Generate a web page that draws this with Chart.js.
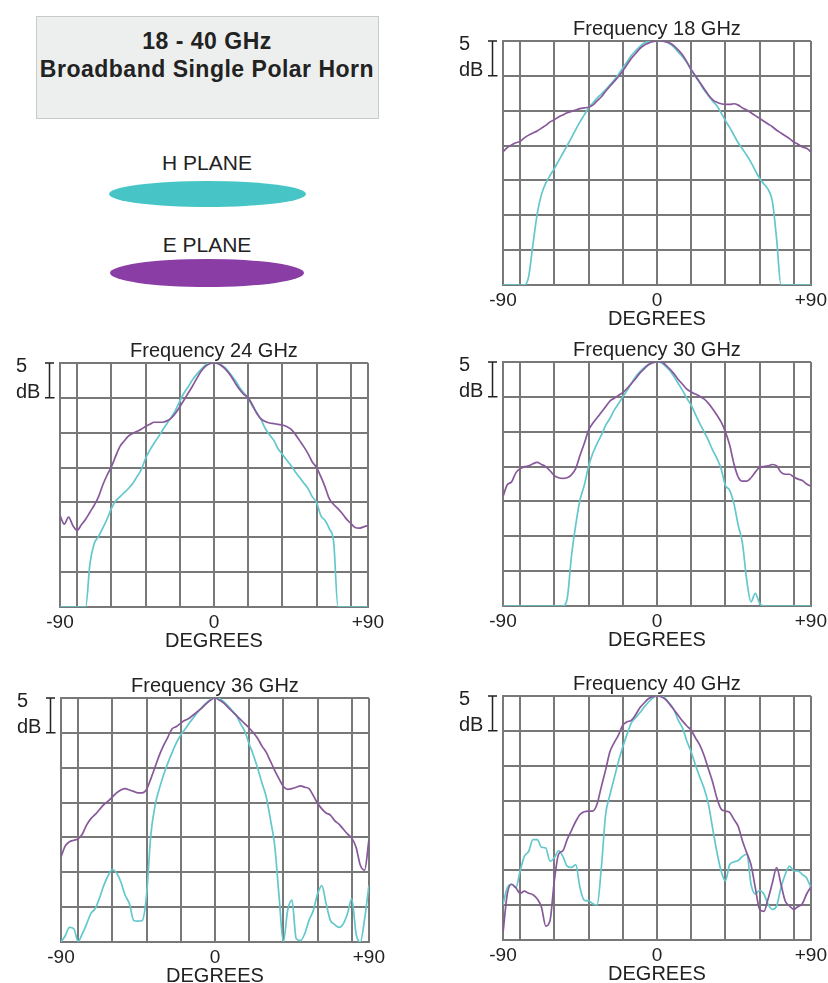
<!DOCTYPE html>
<html>
<head>
<meta charset="utf-8">
<title>18 - 40 GHz Broadband Single Polar Horn</title>
<script src="https://cdn.jsdelivr.net/npm/chart.js@4.4.1/dist/chart.umd.min.js"></script>
<style>
  html, body { margin: 0; padding: 0; background: #fff; overflow: hidden; }
  #page { position: relative; width: 828px; height: 983px; overflow: hidden;
          font-family: "Liberation Sans", Arial, sans-serif; color: #222; }
  .titlebox { position: absolute; left: 36px; top: 16px; width: 341px; height: 101px;
              background: #edefee; border: 1px solid #c9cbca; }
  .txt { position: absolute; left: 0; width: 414px; text-align: center; white-space: nowrap; }
  .big { font-size: 23px; line-height: 23px; font-weight: bold; letter-spacing: 0.5px; }
  .leg { font-size: 21px; line-height: 21px; }
  .ell { position: absolute; border-radius: 50%; }
  canvas { position: absolute; }
</style>
</head>
<body>
<div id="page">
  <div class="titlebox"></div>
  <div class="txt big" style="top:29.5px">18 - 40 GHz</div>
  <div class="txt big" style="top:57.5px">Broadband Single Polar Horn</div>

  <div class="txt leg" style="top:152px">H PLANE</div>
  <div class="ell" style="left:109px; top:181px; width:197px; height:26px; background:#47c5c6;"></div>
  <div class="txt leg" style="top:234px">E PLANE</div>
  <div class="ell" style="left:110px; top:259px; width:194px; height:28px; background:#8b3da6;"></div>
</div>

<script>
/* ===============================
   DATA (angle in degrees, level in dB)
================================*/
const angles = [-90, -87.5, -85, -82.5, -80, -77.5, -75, -72.5, -70,
  -67.5, -65, -62.5, -60, -57.5, -55, -52.5, -50, -47.5,
  -45, -42.5, -40, -37.5, -35, -32.5, -30, -27.5, -25,
  -22.5, -20, -17.5, -15, -12.5, -10, -7.5, -5, -2.5,
  0,
  2.5, 5, 7.5, 10, 12.5, 15, 17.5, 20, 22.5,
  25, 27.5, 30, 32.5, 35, 37.5, 40, 42.5, 45,
  47.5, 50, 52.5, 55, 57.5, 60, 62.5, 65, 67.5,
  70, 72.5, 75, 77.5, 80, 82.5, 85, 87.5, 90];

// 18 GHz
const h18 = [-35, -35, -35, -35, -35, -35, -33.8, -29.2, -24.8,
  -22.0, -20.4, -19.3, -18.3, -17.2, -16.1, -15.0, -13.9, -12.7,
  -11.6, -10.6, -9.6, -8.9, -8.2, -7.6, -7.0, -6.3, -5.6,
  -4.8, -3.9, -3.0, -2.1, -1.4, -0.8, -0.3, -0.1, 0,
  0,
  0, -0.1, -0.4, -0.9, -1.6, -2.3, -3.1, -4.1, -5.1,
  -6.0, -7.0, -7.8, -8.6, -9.3, -10.3, -11.4, -12.4, -13.5,
  -14.6, -15.5, -16.4, -17.4, -18.6, -19.7, -20.5, -21.3, -23.0,
  -28.5, -35, -35, -35, -35, -35, -35, -35, -35];
const e18 = [-15.9, -15.3, -14.9, -14.6, -14.4, -13.9, -13.5, -13.2, -12.9,
  -12.5, -12.1, -11.6, -11.3, -10.9, -10.6, -10.3, -10.1, -9.9,
  -9.7, -9.6, -9.5, -9.2, -8.6, -8.0, -7.2, -6.5, -5.8,
  -5.1, -4.3, -3.4, -2.5, -1.8, -1.1, -0.6, -0.3, -0.1,
  0,
  0, -0.1, -0.3, -0.7, -1.3, -2.0, -3.0, -4.1, -5.0,
  -5.9, -6.8, -7.7, -8.4, -8.8, -9.0, -9.1, -9.1, -9.0,
  -9.2, -9.6, -9.9, -10.3, -10.7, -11.1, -11.5, -11.9, -12.3,
  -12.8, -13.2, -13.6, -14.0, -14.5, -14.8, -15.2, -15.4, -15.9];

// 24 GHz
const h24 = [-35, -35, -35, -35, -35, -35, -35, -28.8, -25.9,
  -24.9, -23.7, -22.4, -20.9, -19.8, -19.2, -18.6, -18.0, -17.3,
  -16.3, -15.3, -13.7, -12.5, -11.5, -10.6, -9.6, -8.7, -7.8,
  -6.8, -5.5, -4.3, -3.4, -2.4, -1.6, -0.9, -0.3, 0,
  0,
  -0.1, -0.4, -0.9, -1.7, -2.5, -3.5, -4.3, -5.0, -6.2,
  -7.1, -8.1, -9.4, -10.3, -11.1, -12.3, -13.1, -13.9, -14.7,
  -15.6, -16.4, -17.2, -18.0, -19.2, -20.0, -21.9, -22.6, -23.8,
  -25.7, -35, -35, -35, -35, -35, -35, -35, -35];
const e24 = [-21.9, -23.1, -22.1, -23.3, -24.0, -23.2, -22.4, -21.4, -20.4,
  -19.2, -17.5, -16.1, -14.9, -13.4, -12.0, -11.2, -10.5, -10.1,
  -9.8, -9.5, -9.1, -8.8, -8.5, -8.5, -8.5, -8.3, -7.9,
  -7.2, -6.3, -5.3, -4.3, -3.3, -2.2, -1.2, -0.5, -0.1,
  0,
  -0.1, -0.5, -1.1, -1.9, -2.9, -3.8, -4.5, -5.0, -6.0,
  -7.2, -8.0, -8.4, -8.6, -8.7, -8.8, -8.9, -9.1, -9.5,
  -10.2, -11.1, -12.0, -13.0, -14.2, -15.0, -16.3, -17.8, -19.5,
  -20.3, -20.9, -21.6, -22.4, -23.0, -23.6, -23.7, -23.5, -23.3];

// 30 GHz
const h30 = [-35, -35, -35, -35, -35, -35, -35, -35, -35,
  -35, -35, -35, -35, -35, -35, -34.0, -27.9, -23.4,
  -19.8, -17.7, -15.0, -13.1, -11.7, -10.5, -9.1, -8.1, -6.9,
  -6.0, -5.0, -4.1, -3.1, -2.1, -1.4, -0.8, -0.4, -0.1,
  0,
  -0.1, -0.6, -1.2, -2.1, -3.1, -4.1, -5.2, -6.2, -7.5,
  -8.8, -10.0, -11.2, -12.6, -13.8, -15.3, -17.7, -18.4, -20.3,
  -23.4, -26.0, -31.3, -34.4, -33.2, -34.6, -35, -35, -35,
  -35, -35, -35, -35, -35, -35, -35, -35, -35];
const e30 = [-19.3, -17.6, -17.2, -15.9, -15.3, -15.0, -14.9, -14.6, -14.4,
  -14.7, -15.0, -15.6, -16.3, -16.6, -16.7, -16.6, -16.2, -15.3,
  -13.4, -11.7, -9.8, -8.8, -8.0, -7.2, -6.4, -5.6, -5.2,
  -4.8, -4.4, -3.8, -3.1, -2.4, -1.6, -1.0, -0.4, -0.1,
  0,
  0, -0.4, -1.0, -1.7, -2.5, -3.2, -3.9, -4.3, -4.6,
  -4.9, -5.3, -5.9, -6.7, -7.6, -8.6, -10.0, -11.9, -14.6,
  -16.5, -17.1, -17.1, -16.6, -15.8, -15.1, -15.0, -14.9, -14.7,
  -14.9, -15.8, -16.1, -16.1, -16.5, -16.8, -17.0, -17.5, -17.8];

// 36 GHz
const h36 = [-35, -34.1, -32.9, -33.1, -34.9, -33.8, -32.4, -30.9, -30.2,
  -28.7, -26.9, -25.5, -24.6, -25.1, -26.4, -28.3, -29.5, -31.9,
  -32.0, -31.9, -28.3, -19.7, -15.4, -13.0, -11.0, -9.3, -7.8,
  -6.4, -5.3, -4.5, -3.6, -2.8, -2.0, -1.3, -0.7, -0.2,
  0,
  -0.1, -0.5, -1.1, -1.8, -2.5, -3.7, -4.8, -6.6, -8.2,
  -10.1, -12.2, -14.2, -17.5, -21.3, -28.5, -35, -30.5, -29.0,
  -34.5, -34.8, -33.8, -31.9, -30.5, -28.1, -26.9, -29.5, -31.9,
  -32.5, -32.9, -32.4, -30.9, -28.8, -33.8, -35, -31.7, -26.9];
const e36 = [-22.8, -21.2, -20.6, -20.4, -20.2, -19.5, -18.2, -17.3, -16.7,
  -16.0, -15.3, -14.8, -14.2, -13.6, -13.2, -13.0, -13.2, -13.4,
  -13.6, -13.6, -13.1, -11.6, -9.9, -8.2, -6.8, -5.6, -4.4,
  -4.1, -3.6, -3.2, -2.9, -2.4, -1.9, -1.4, -0.8, -0.3,
  0,
  -0.3, -0.7, -1.3, -1.9, -2.5, -3.1, -3.7, -4.3, -5.0,
  -5.8, -6.9, -7.8, -9.1, -10.4, -11.6, -12.7, -13.1, -13.0,
  -12.8, -12.6, -12.8, -13.0, -14.0, -15.1, -15.9, -16.5, -16.8,
  -17.6, -18.1, -18.8, -19.5, -20.1, -21.4, -24.0, -24.7, -20.4];

// 40 GHz
const h40 = [-29.9, -27.5, -27.0, -27.5, -25.1, -23.0, -22.3, -20.6, -20.6,
  -21.7, -21.8, -23.7, -23.2, -22.2, -23.0, -24.4, -24.6, -24.2,
  -27.5, -29.3, -29.4, -29.8, -30.0, -24.6, -17.0, -14.2, -11.8,
  -9.4, -7.3, -5.5, -3.9, -3.1, -2.4, -1.6, -0.9, -0.3,
  0,
  0, -0.4, -1.1, -2.0, -3.5, -4.6, -6.5, -8.0, -9.9,
  -11.6, -13.2, -15.4, -18.9, -22.3, -25.1, -26.5, -24.2, -23.8,
  -23.6, -23.0, -22.7, -27.0, -28.4, -27.9, -28.4, -29.9, -30.6,
  -30.1, -27.5, -25.6, -24.4, -25.1, -25.1, -25.6, -26.1, -27.5];
const e40 = [-34.0, -28.4, -27.0, -27.5, -28.3, -28.0, -28.3, -28.5, -29.1,
  -30.3, -33.0, -32.2, -26.5, -22.7, -22.2, -20.6, -19.3, -18.0,
  -17.0, -16.6, -16.5, -16.5, -15.5, -13.0, -10.6, -8.0, -6.7,
  -5.6, -4.2, -3.7, -3.5, -2.7, -1.7, -1.0, -0.4, -0.1,
  0,
  -0.1, -0.5, -1.2, -2.0, -2.8, -3.6, -4.3, -4.9, -6.0,
  -7.0, -8.5, -10.4, -12.3, -14.6, -16.2, -16.5, -16.7, -17.7,
  -18.7, -20.8, -22.5, -24.2, -27.5, -30.6, -30.9, -29.1, -26.8,
  -24.6, -27.0, -29.4, -30.1, -30.6, -30.2, -29.8, -28.4, -27.4];

// axis ticks
const xGridDeg = [-90, -80, -60, -40, -20, 0, 20, 40, 60, 80, 90];
const xLabelDeg = [-90, 0, 90];
const xLabelText = ['-90', '0', '+90'];
const dbMin = -35, dbMax = 0, dbStep = 5;
const scaleMark = ['5', 'dB'];

/* ===============================
   STYLE + LAYOUT
================================*/
const FONT = '"Liberation Sans", Arial, sans-serif';
const H_COLOR = '#63c8cc';
const E_COLOR = '#87589a';
const GRID = '#787878';
const INK = '#222';

// plot-area top-left of each panel on the page
const panels = [
  { title: 'Frequency 18 GHz', h: h18, e: e18, left: 503, top: 41 },
  { title: 'Frequency 24 GHz', h: h24, e: e24, left: 60,  top: 363 },
  { title: 'Frequency 30 GHz', h: h30, e: e30, left: 503, top: 362 },
  { title: 'Frequency 36 GHz', h: h36, e: e36, left: 61,  top: 698 },
  { title: 'Frequency 40 GHz', h: h40, e: e40, left: 503, top: 696 }
];

// little "5 dB" bracket left of every plot
const dbBracket = {
  id: 'dbBracket',
  afterDraw(chart) {
    const { ctx, chartArea, scales: { y } } = chart;
    const top = y.getPixelForValue(dbMax);
    const bot = y.getPixelForValue(dbMax - dbStep);
    const bx = chartArea.left - 10.5;
    ctx.save();
    ctx.strokeStyle = INK;
    ctx.lineWidth = 1.5;
    ctx.beginPath();
    ctx.moveTo(bx - 4.5, top); ctx.lineTo(bx + 4.5, top);
    ctx.moveTo(bx, top); ctx.lineTo(bx, bot);
    ctx.moveTo(bx - 4.5, bot); ctx.lineTo(bx + 5, bot);
    ctx.stroke();
    ctx.fillStyle = INK;
    ctx.font = '20px ' + FONT;
    ctx.textAlign = 'left';
    ctx.textBaseline = 'alphabetic';
    ctx.fillText(scaleMark[0], chartArea.left - 44, top + 9);
    ctx.fillText(scaleMark[1], chartArea.left - 44, bot);
    ctx.restore();
  }
};

function toPoints(vals) {
  return angles.map((a, i) => ({ x: a, y: vals[i] }));
}

function makePanel(p) {
  const cv = document.createElement('canvas');
  cv.width = 378;
  cv.height = 330;
  cv.style.left = (p.left - 50) + 'px';
  cv.style.top = (p.top - 36) + 'px';
  document.getElementById('page').appendChild(cv);

  new Chart(cv, {
    type: 'line',
    data: {
      datasets: [
        { label: 'E PLANE', data: toPoints(p.e), borderColor: E_COLOR, borderWidth: 1.7,
          pointRadius: 0, cubicInterpolationMode: 'monotone' },
        { label: 'H PLANE', data: toPoints(p.h), borderColor: H_COLOR, borderWidth: 1.7,
          pointRadius: 0, cubicInterpolationMode: 'monotone' }
      ]
    },
    options: {
      responsive: false,
      animation: false,
      devicePixelRatio: 1,
      layout: { padding: { left: 0, right: 18, top: 0, bottom: 0 } },
      plugins: {
        legend: { display: false },
        tooltip: { enabled: false },
        title: {
          display: true, text: p.title, fullSize: false, color: INK,
          font: { family: FONT, size: 20, weight: 'normal' },
          padding: { top: 12, bottom: 0 }
        }
      },
      scales: {
        x: {
          type: 'linear', min: -90, max: 90,
          afterBuildTicks: s => { s.ticks = xGridDeg.map(v => ({ value: v })); },
          afterFit: s => { s.height = 50; },
          grid: { color: GRID, lineWidth: 2, drawTicks: false },
          border: { color: GRID, width: 2 },
          ticks: {
            autoSkip: false, maxRotation: 0, padding: 4, color: INK,
            font: { family: FONT, size: 19 },
            callback: v => {
              const k = xLabelDeg.indexOf(v);
              return k >= 0 ? xLabelText[k] : '';
            }
          },
          title: {
            display: true, text: 'DEGREES', color: INK,
            font: { family: FONT, size: 20 },
            padding: { top: 0, bottom: 4 }
          }
        },
        y: {
          type: 'linear', min: dbMin, max: dbMax,
          afterFit: s => { s.width = 50; },
          grid: { color: GRID, lineWidth: 2, drawTicks: false },
          border: { color: GRID, width: 2 },
          ticks: { display: false, stepSize: dbStep }
        }
      }
    },
    plugins: [dbBracket]
  });
}

panels.forEach(makePanel);
</script>
</body>
</html>
